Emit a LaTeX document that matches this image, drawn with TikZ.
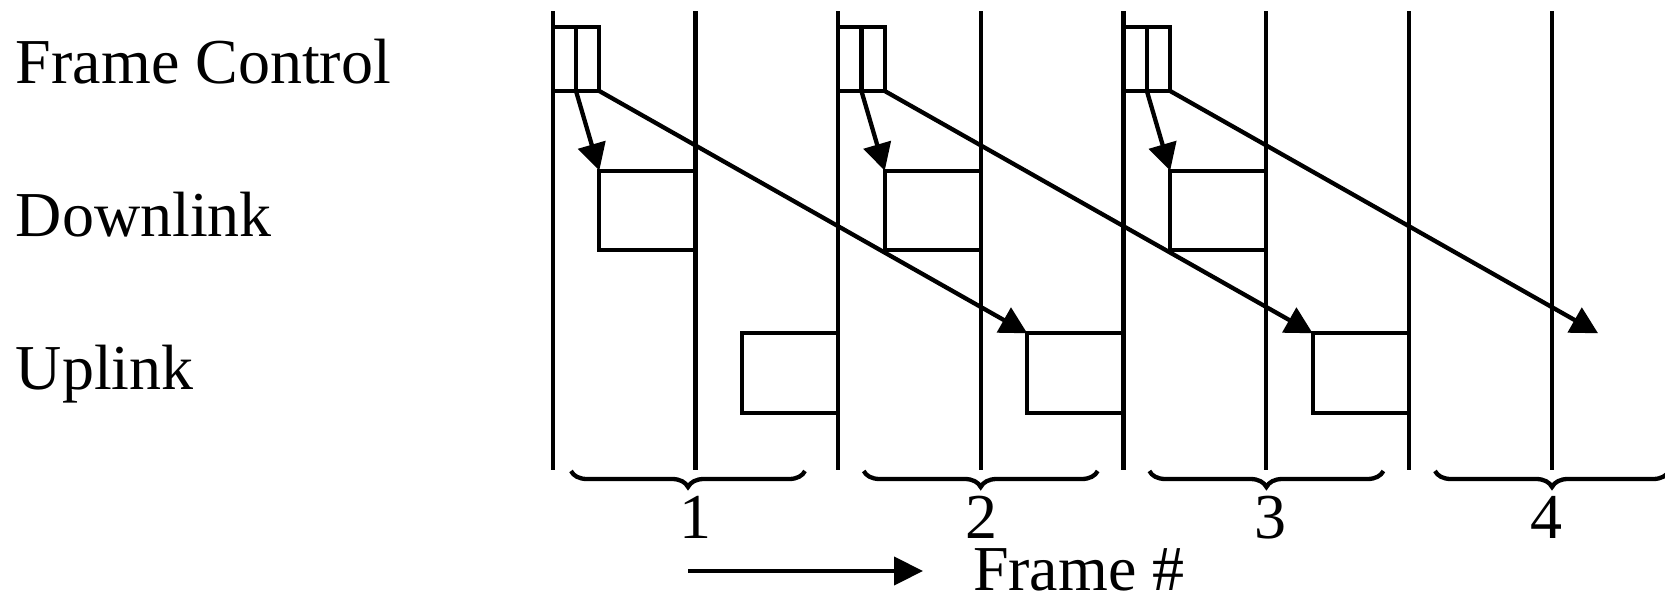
\documentclass[tikz,border=0pt]{standalone}
\usepackage{fontspec}
\setmainfont{Liberation Serif}
\usetikzlibrary{arrows.meta,decorations.pathreplacing}
\begin{document}
\begin{tikzpicture}[x=1pt,y=-1pt,
  every node/.style={inner sep=0pt,outer sep=0pt},
  rule/.style={line width=4.3pt},
  slot/.style={draw,line width=4.3pt,rectangle,inner sep=0pt,outer sep=0pt},
  fcbox/.style={slot,minimum width=46.6pt,minimum height=64pt},
  dlbox/.style={slot,minimum width=96.1pt,minimum height=79.3pt},
  ulbox/.style={slot,minimum width=96.3pt,minimum height=80pt},
  link/.style={line width=4.3pt,-{Triangle[length=27pt,width=28pt]}},
  timearrow/.style={line width=4.3pt,-{Triangle[length=29pt,width=28pt]}},
  lbl/.style={font=\fontsize{64}{70}\selectfont},
  framebrace/.style={line width=4.3pt,decorate,decoration={brace,mirror,amplitude=16pt}}
]
\useasboundingbox (0,0) rectangle (1665,597);
\clip (0,0) rectangle (1665,597);

% row titles
\node[lbl,anchor=base west] (rowfc) at (16,83) {Frame Control};
\node[lbl,anchor=base west] (rowdl) at (16,236) {Downlink};
\node[lbl,anchor=base west] (rowul) at (16,389) {Uplink};

% frame boundaries and half-frame lines
\foreach \k in {0,...,3} {
  \pgfmathsetmacro\s{552.7+285.43*\k}
  \pgfmathsetmacro\m{\s+142.71}
  \draw[rule] (\s,11) -- (\s,470);
  \draw[rule] (\m,11) -- (\m,470);
}

% control, downlink and uplink slots of frames 1-3
\foreach \k in {0,1,2} {
  \pgfmathsetmacro\s{552.7+285.43*\k}
  \node[fcbox] (fc\k) at (\s+23.3,59) {};
  \draw[rule] (fc\k.north) -- (fc\k.south);
  \node[dlbox] (dl\k) at (\s+94.65,210.3) {};
  \node[ulbox] (ul\k) at (\s+237.3,373.3) {};
}
\coordinate (ul3) at (552.7+285.43*3+189.1,333.3);

% control -> downlink of the same frame
\foreach \k in {0,1,2}
  \draw[link] (fc\k.south) -- (dl\k.north west);

% control -> uplink of the next frame
\draw[link] (fc0.south east) -- (ul1.north west);
\draw[link] (fc1.south east) -- (ul2.north west);
\draw[link] (fc2.south east) -- (ul3);

% frame numbering
\foreach \c/\x/\n in {688/695/1, 980.7/981.5/2, 1266.4/1270/3, 1552/1546/4} {
  \draw[framebrace] (\c-117,471) -- (\c+117,471);
  \node[lbl,anchor=base] (num\n) at (\x,538) {\n};
}

% time direction
\coordinate (tstart) at (688,571);
\coordinate (tend) at (923,571);
\draw[timearrow] (tstart) -- (tend);
\node[lbl,anchor=base west] (tlabel) at (973,590) {Frame \#};
\end{tikzpicture}
\end{document}
